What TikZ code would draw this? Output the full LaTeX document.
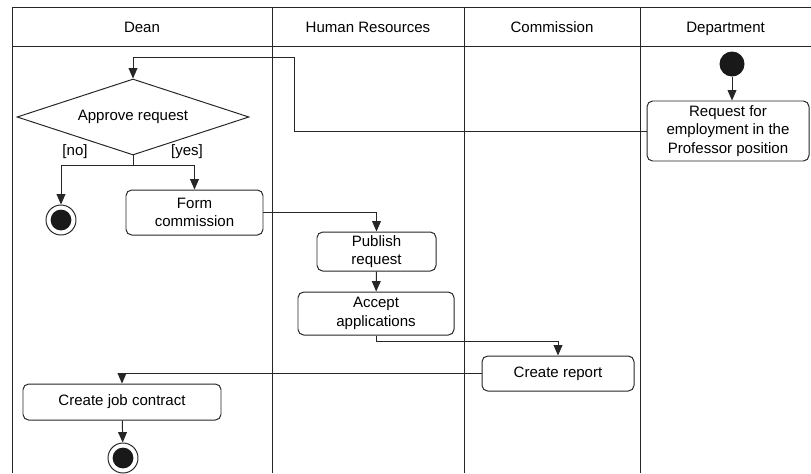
\documentclass[tikz,border=0pt]{standalone}
\usepackage{fontspec}
\setsansfont{Liberation Sans}
\usepackage{tikz}
\usetikzlibrary{arrows.meta, shapes, shapes.geometric, calc}

\tikzset{
	line/.style={draw=black!85, line width=0.7pt},
	flow/.style={line, -{Triangle[length=2.6mm, width=2.2mm]}},
	lane/.style={text height=1.6ex, text depth=0.4ex},
	action/.style={line, rounded corners=4pt, align=center, inner sep=0pt},
	decision/.style={line, diamond, aspect=3, inner sep=0pt, minimum width=5.8cm, minimum height=1.9cm},
	startnode/.style={circle, fill=black!90, inner sep=0pt, minimum size=0.625cm},
	endnode/.style={line, circle, inner sep=0pt, minimum size=0.75cm,
		path picture={\fill[black!90] (path picture bounding box.center) circle (0.26cm);}},
}

\begin{document}
\begin{tikzpicture}[font=\sffamily\fontsize{10.7}{13}\selectfont]
	\useasboundingbox				(0,0) rectangle (20.275,-11.825);
	% swimlanes
	\draw[line]					(0.3,-11.825) |- (20.275,-0.175);
	\draw[line]					(0.3,-1.15) -- (20.275,-1.15);
	\draw[line]					(6.8,-0.175) -- (6.8,-11.825);
	\draw[line]					(11.6,-0.175) -- (11.6,-11.825);
	\draw[line]					(16,-0.175) -- (16,-11.825);
	\node[lane] (dean)	at (3.55,-0.73)		{Dean};
	\node[lane] (hr)	at (9.2,-0.73)		{Human Resources};
	\node[lane] (comm)	at (13.8,-0.73)		{Commission};
	\node[lane] (dept)	at (18.14,-0.73)	{Department};

	% activities
	\node[startnode] (start) at (18.3,-1.6)		{};
	\node[action, minimum width=4.05cm, minimum height=1.5cm] (req) at (18.2,-3.275)
		{Request for\\employment in the\\Professor position};
	\node[decision] (dec) at (3.325,-2.925)		{Approve request};
	\node[endnode] (end1) at (1.525,-5.5)		{};
	\node[action, minimum width=3.425cm, minimum height=1.125cm] (form) at (4.8625,-5.3125)
		{Form\\commission};
	\node[action, minimum width=2.975cm, minimum height=0.975cm] (pub) at (9.4125,-6.2875)
		{Publish\\request};
	\node[action, minimum width=3.9cm, minimum height=1.075cm] (acc) at (9.4,-7.8375)
		{Accept\\applications};
	\node[action, minimum width=3.8cm, minimum height=0.875cm] (rep) at (13.95,-9.3375)
		{Create report};
	\node[action, minimum width=4.95cm, minimum height=0.9cm] (con) at (3.05,-10.05)
		{Create job contract};
	\node[endnode] (end2) at (3.075,-11.45)		{};

	% flows
	\coordinate (bend)	at (7.35,-1.425);
	\coordinate (split)	at (3.325,-4.125);
	\draw[flow]					(start) -- (start |- req.north);
	\draw[flow]					(req.west) -| (bend) -| (dec.north);
	\draw[line]					(dec.south) -- (split);
	\draw[flow]					(split) -| (end1.north);
	\draw[flow]					(split) -| (form.north);
	\node (no)	at ([xshift=-1.45cm, yshift=0.33cm]split)	{[no]};
	\node (yes)	at ([xshift=1.35cm, yshift=0.33cm]split)	{[yes]};
	\draw[flow]					(form.east) -| (pub.north);
	\draw[flow]					(pub) -- (acc);
	\draw[flow]					(acc.south) -- ++(0,-0.15) -| (rep.north);
	\draw[flow]					(rep.west) -| (con.north);
	\draw[flow]					(con) -- (end2);
\end{tikzpicture}
\end{document}
